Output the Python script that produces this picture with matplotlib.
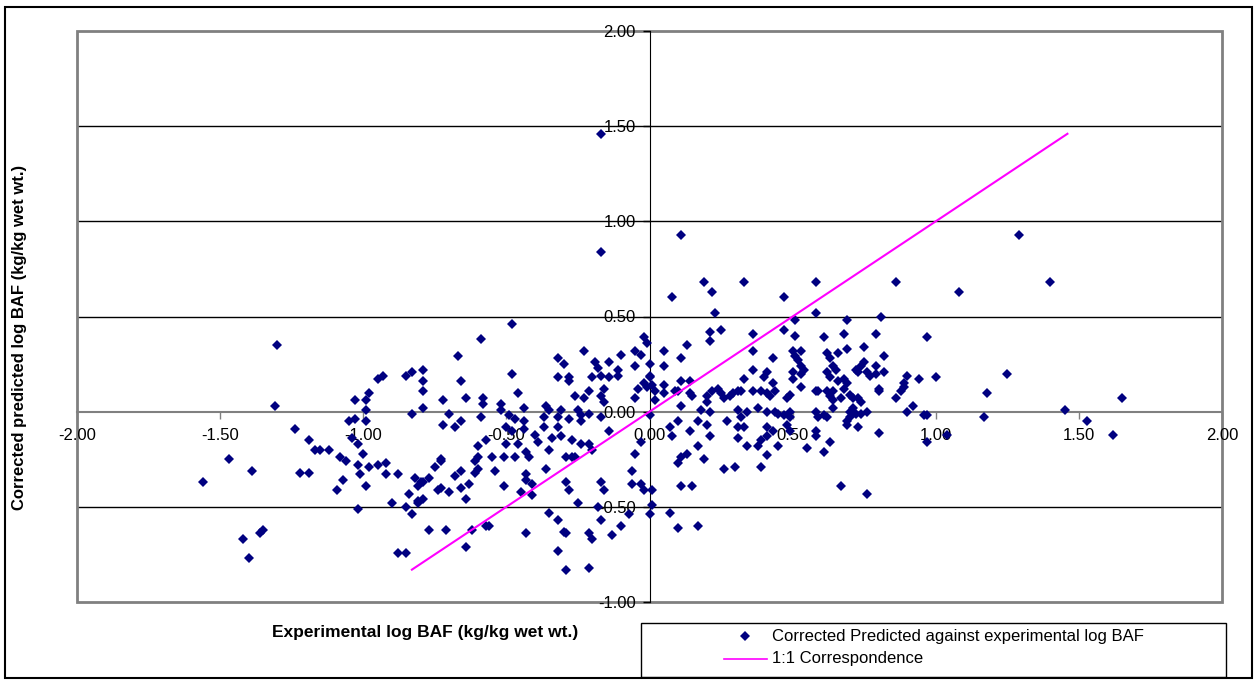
import numpy as np
import matplotlib.pyplot as plt
from matplotlib.patches import Rectangle
from matplotlib.lines import Line2D
from matplotlib.ticker import FormatStrFormatter

plt.rcParams['font.family'] = ['Liberation Sans', 'DejaVu Sans']

# experimental vs corrected predicted log BAF (kg/kg wet wt.)
exp_left = [-1.30, -1.31, -1.24, -1.19, -1.17, -1.15, -1.12, -1.08, -1.06, -1.47, -1.56, -1.39, -1.22, -1.19,
            -1.07, -1.09, -1.02, -1.02, -1.01, -0.99, -1.00, -1.02, -1.04, -1.05, -1.03, -0.99, -0.99, -1.03,
            -0.99, -0.98, -0.95, -0.93, -0.85, -0.83, -0.83, -0.98, -0.95, -0.92, -0.92, -0.88, -0.90, -0.85,
            -0.83, -0.84, -0.82, -0.81, -0.81, -1.42, -1.40, -1.36, -1.35, -0.88, -0.85]
pred_left = [0.35, 0.03, -0.09, -0.15, -0.20, -0.20, -0.20, -0.24, -0.26, -0.25, -0.37, -0.31, -0.32, -0.32,
             -0.36, -0.41, -0.51, -0.28, -0.33, -0.39, -0.22, -0.17, -0.14, -0.05, -0.04, -0.05, 0.01, 0.06,
             0.06, 0.10, 0.17, 0.19, 0.19, 0.21, -0.01, -0.29, -0.28, -0.27, -0.33, -0.33, -0.48, -0.50,
             -0.54, -0.43, -0.35, -0.39, -0.48, -0.67, -0.77, -0.64, -0.62, -0.74, -0.74]

exp_midleft = [-0.48, -0.59, -0.67, -0.79, -0.79, -0.79, -0.79, -0.66, -0.48, -0.46, -0.72, -0.64, -0.58, -0.58,
               -0.52, -0.52, -0.70, -0.59, -0.66, -0.72, -0.68, -0.49, -0.47, -0.44, -0.44, -0.50, -0.48, -0.57,
               -0.60, -0.50, -0.46, -0.73, -0.60, -0.55, -0.51, -0.47,
               -0.80, -0.79, -0.77, -0.81, -0.79, -0.75, -0.73, -0.74, -0.73, -0.70, -0.68, -0.66, -0.66, -0.63,
               -0.64, -0.61, -0.60, -0.61, -0.54, -0.51, -0.45, -0.43, -0.43, -0.41, -0.41, -0.36, -0.26, -0.29,
               -0.28, -0.25, -0.17, -0.16, -0.18, -0.17, -0.06, -0.06, -0.03, -0.02, 0.01, -0.07, -0.10, -0.13,
               0.01, 0.00, -0.35, -0.32, -0.30, -0.29, -0.43, -0.57, -0.56, -0.62, -0.64, -0.71, -0.77, -0.21,
               -0.20, -0.32, -0.29, -0.21]
pred_midleft = [0.46, 0.38, 0.29, 0.22, 0.16, 0.11, 0.02, 0.16, 0.20, 0.10, 0.06, 0.07, 0.07, 0.04,
                0.04, 0.01, -0.01, -0.03, -0.05, -0.07, -0.08, -0.02, -0.04, 0.02, -0.05, -0.08, -0.10, -0.15,
                -0.18, -0.17, -0.17, -0.25, -0.24, -0.24, -0.24, -0.24,
                -0.37, -0.37, -0.35, -0.47, -0.46, -0.29, -0.26, -0.41, -0.40, -0.42, -0.34, -0.31, -0.40, -0.38,
                -0.46, -0.32, -0.30, -0.26, -0.31, -0.39, -0.42, -0.33, -0.36, -0.38, -0.44, -0.30, -0.24, -0.37,
                -0.41, -0.48, -0.37, -0.41, -0.50, -0.57, -0.31, -0.38, -0.38, -0.41, -0.41, -0.54, -0.60, -0.65,
                -0.49, -0.54, -0.53, -0.57, -0.63, -0.64, -0.64, -0.60, -0.60, -0.62, -0.71, -0.62, -0.62, -0.64,
                -0.67, -0.73, -0.83, -0.82]

exp_center = [-0.02, -0.01, -0.23, -0.32, -0.30, -0.10, -0.05, -0.03, -0.14, -0.19, -0.18, -0.05, -0.11, -0.32,
              -0.28, -0.28, -0.20, -0.17, -0.14, -0.11, 0.00, -0.02, -0.01, -0.04, -0.16, -0.21, -0.17, -0.26,
              -0.23, -0.05, -0.16, -0.36, -0.35, -0.31, -0.25, -0.24, -0.21, -0.17, -0.37, -0.32, -0.28, -0.24,
              -0.37, -0.32, -0.44, -0.40, -0.34, -0.31, -0.27, -0.14, -0.24, -0.21, -0.20, -0.39, -0.35, -0.43,
              -0.42, -0.29, -0.27, -0.03, -0.05, -0.17, -0.17]
pred_center = [0.39, 0.36, 0.32, 0.28, 0.25, 0.30, 0.32, 0.30, 0.26, 0.26, 0.23, 0.24, 0.22, 0.18,
               0.18, 0.16, 0.18, 0.19, 0.18, 0.19, 0.19, 0.15, 0.13, 0.12, 0.12, 0.11, 0.08, 0.08,
               0.07, 0.07, 0.05, 0.03, 0.01, 0.01, 0.01, -0.02, -0.01, -0.03, -0.03, -0.03, -0.04, -0.05,
               -0.08, -0.08, -0.09, -0.12, -0.14, -0.13, -0.15, -0.10, -0.17, -0.17, -0.20, -0.16, -0.20, -0.21,
               -0.24, -0.24, -0.24, -0.16, -0.22, 1.46, 0.84]

exp_midright = [0.23, 0.21, 0.25, 0.21, 0.36, 0.36, 0.13, 0.05, 0.11, 0.00, 0.05, 0.43, 0.36, 0.41,
                0.40, 0.33, 0.00, 0.01, 0.05, 0.11, 0.14, 0.09, 0.02, 0.05, 0.10, 0.14, 0.15, 0.02,
                0.11, 0.00, 0.20, 0.20, 0.24, 0.25, 0.26, 0.28, 0.29, 0.31, 0.32, 0.36, 0.39, 0.41,
                0.42, 0.44, 0.22, 0.18, 0.21, 0.31, 0.34, 0.38, 0.41, 0.44, 0.10, 0.07, 0.17, 0.20,
                0.27, 0.32, 0.31, 0.33, 0.08, 0.14, 0.21, 0.31, 0.41, 0.41, 0.39, 0.17, 0.34, 0.38,
                0.41, 0.13, 0.11, 0.10, 0.19, 0.26, 0.30, 0.39,
                0.45, 0.55, 0.61, 0.63, 0.11, 0.15, 0.07, 0.10, 0.17, 0.67, 0.76,
                0.11, 0.19, 0.22, 0.08, 0.33, 0.47, 0.58, 0.58, 0.51, 0.47, 0.51, 0.61, 0.68, 0.69,
                0.79, 0.69, 0.75]
pred_midright = [0.52, 0.42, 0.43, 0.37, 0.41, 0.32, 0.35, 0.32, 0.28, 0.25, 0.24, 0.28, 0.22, 0.21,
                 0.18, 0.17, 0.18, 0.14, 0.14, 0.16, 0.16, 0.11, 0.11, 0.10, 0.11, 0.10, 0.08, 0.06,
                 0.03, -0.02, 0.08, 0.05, 0.12, 0.10, 0.07, 0.08, 0.10, 0.11, 0.11, 0.11, 0.11, 0.10,
                 0.08, 0.11, 0.11, 0.01, 0.00, 0.01, 0.00, 0.02, 0.00, 0.00, -0.05, -0.08, -0.05, -0.07,
                 -0.05, -0.03, -0.08, -0.08, -0.13, -0.10, -0.13, -0.14, -0.08, -0.13, -0.15, -0.18, -0.18, -0.18,
                 -0.23, -0.22, -0.24, -0.27, -0.25, -0.30, -0.29, -0.29,
                 -0.18, -0.19, -0.21, -0.16, -0.39, -0.39, -0.53, -0.61, -0.60, -0.39, -0.43,
                 0.93, 0.68, 0.63, 0.60, 0.68, 0.60, 0.68, 0.52, 0.48, 0.43, 0.40, 0.39, 0.41, 0.48,
                 0.41, 0.33, 0.34]

exp_right = [0.81, 0.82, 0.50, 0.53, 0.51, 0.52, 0.53, 0.54, 0.53, 0.50, 0.50, 0.62, 0.63, 0.66,
             0.64, 0.65, 0.62, 0.63, 0.43, 0.49, 0.48, 0.53, 0.58, 0.59, 0.62, 0.64, 0.63, 0.64,
             0.64, 0.66, 0.68, 0.69, 0.68, 0.70, 0.67, 0.71, 0.73, 0.74, 0.72, 0.73, 0.74, 0.75,
             0.76, 0.77, 0.79, 0.79, 0.82, 0.80, 0.80, 0.86, 0.70, 0.71, 0.72, 0.74, 0.76, 0.70,
             0.69, 0.69, 0.73, 0.80, 0.58, 0.59, 0.61, 0.62, 0.58, 0.58, 0.49, 0.49, 0.48, 0.47,
             0.45, 0.43, 0.49,
             1.29, 0.86, 1.08, 1.40, 0.97, 0.90, 0.89, 0.89, 0.88, 0.94, 1.00, 0.92, 0.90, 0.96,
             0.97, 0.97, 1.04, 1.18, 1.17, 1.25, 1.45, 1.53, 1.62, 1.65]
pred_right = [0.50, 0.29, 0.32, 0.32, 0.29, 0.27, 0.24, 0.22, 0.20, 0.21, 0.17, 0.31, 0.28, 0.31,
              0.24, 0.22, 0.21, 0.18, 0.15, 0.09, 0.07, 0.13, 0.11, 0.11, 0.11, 0.11, 0.08, 0.06,
              0.02, 0.16, 0.17, 0.15, 0.12, 0.09, 0.07, 0.07, 0.07, 0.05, 0.22, 0.21, 0.24, 0.26,
              0.21, 0.19, 0.24, 0.20, 0.21, 0.12, 0.11, 0.07, 0.00, 0.02, -0.01, -0.01, 0.00, -0.03,
              -0.05, -0.07, -0.08, -0.11, 0.00, -0.03, -0.02, -0.03, -0.10, -0.13, 0.00, -0.03, -0.07, -0.02,
              -0.01, -0.10, -0.10,
              0.93, 0.68, 0.63, 0.68, 0.39, 0.19, 0.15, 0.13, 0.11, 0.17, 0.18, 0.03, 0.00, -0.02,
              -0.02, -0.16, -0.12, 0.10, -0.03, 0.20, 0.01, -0.05, -0.12, 0.07]

experimental = np.array(exp_left + exp_midleft + exp_center + exp_midright + exp_right)
predicted = np.array(pred_left + pred_midleft + pred_center + pred_midright + pred_right)

# 1:1 line spans the predicted range
one_to_one = [-0.83, 1.46]

x_ticks = np.arange(-2.0, 2.01, 0.5)
y_ticks = np.arange(-1.0, 2.01, 0.5)

W, H = 1258, 680
fig = plt.figure(figsize=(W / 100, H / 100), dpi=100)
ax = fig.add_axes([77 / W, 1 - 602 / H, 1145 / W, 571 / H])

for yv in y_ticks:
    if yv not in (-1.0, 0.0, 2.0):
        ax.axhline(yv, color='black', lw=1, zorder=0.5)

ax.plot(experimental, predicted, linestyle='none', marker='D', ms=5.2, mew=0,
        color='#000080', zorder=2)
ax.plot(one_to_one, one_to_one, color='#FF00FF', lw=1.5, zorder=3)

ax.set_xlim(-2, 2)
ax.set_ylim(-1, 2)
ax.set_xticks(x_ticks)
ax.set_yticks(y_ticks)
ax.xaxis.set_major_formatter(FormatStrFormatter('%.2f'))
ax.yaxis.set_major_formatter(FormatStrFormatter('%.2f'))
ax.tick_params(axis='x', direction='out', length=5, width=1, color='#808080', pad=7, labelsize=12)
ax.tick_params(axis='y', direction='out', length=5, width=1, color='black', pad=5, labelsize=12)

ax.spines['left'].set_position(('data', 0))
ax.spines['bottom'].set_position(('data', 0))
ax.spines['left'].set_color('black')
ax.spines['bottom'].set_color('#808080')
ax.spines['bottom'].set_linewidth(1.5)
for s in ('left', 'bottom'):
    ax.spines[s].set_zorder(1)
ax.spines['top'].set_visible(False)
ax.spines['right'].set_visible(False)
ax.add_patch(Rectangle((0, 0), 1, 1, transform=ax.transAxes, fill=False,
                       edgecolor='#808080', lw=2, clip_on=False, zorder=1))

# axis titles
fig.text(425 / W, 1 - 632 / H, 'Experimental log BAF (kg/kg wet wt.)',
         ha='center', va='center', fontsize=12.5, fontweight='bold')
fig.text(20 / W, 1 - 337 / H, 'Corrected predicted log BAF (kg/kg wet wt.)',
         ha='center', va='center', rotation=90, fontsize=12, fontweight='bold')

# legend box
fig.add_artist(Rectangle((641 / W, 1 - 677 / H), 585 / W, 54 / H, transform=fig.transFigure,
                         fill=False, edgecolor='black', lw=1))
fig.add_artist(Line2D([745 / W], [1 - 636 / H], transform=fig.transFigure, marker='D',
                      ms=5.2, mew=0, color='#000080', linestyle='none'))
fig.add_artist(Line2D([724 / W, 767 / W], [1 - 659 / H, 1 - 659 / H], transform=fig.transFigure,
                      color='#FF00FF', lw=1.2))
fig.text(772 / W, 1 - 636 / H, 'Corrected Predicted against experimental log BAF',
         ha='left', va='center', fontsize=12)
fig.text(772 / W, 1 - 659 / H, '1:1 Correspondence', ha='left', va='center', fontsize=12)

# outer chart border
fig.add_artist(Rectangle((5 / W, 1 - 678 / H), 1247 / W, 671 / H, transform=fig.transFigure,
                         fill=False, edgecolor='black', lw=1.5))

fig.savefig('out.png', dpi=100)
